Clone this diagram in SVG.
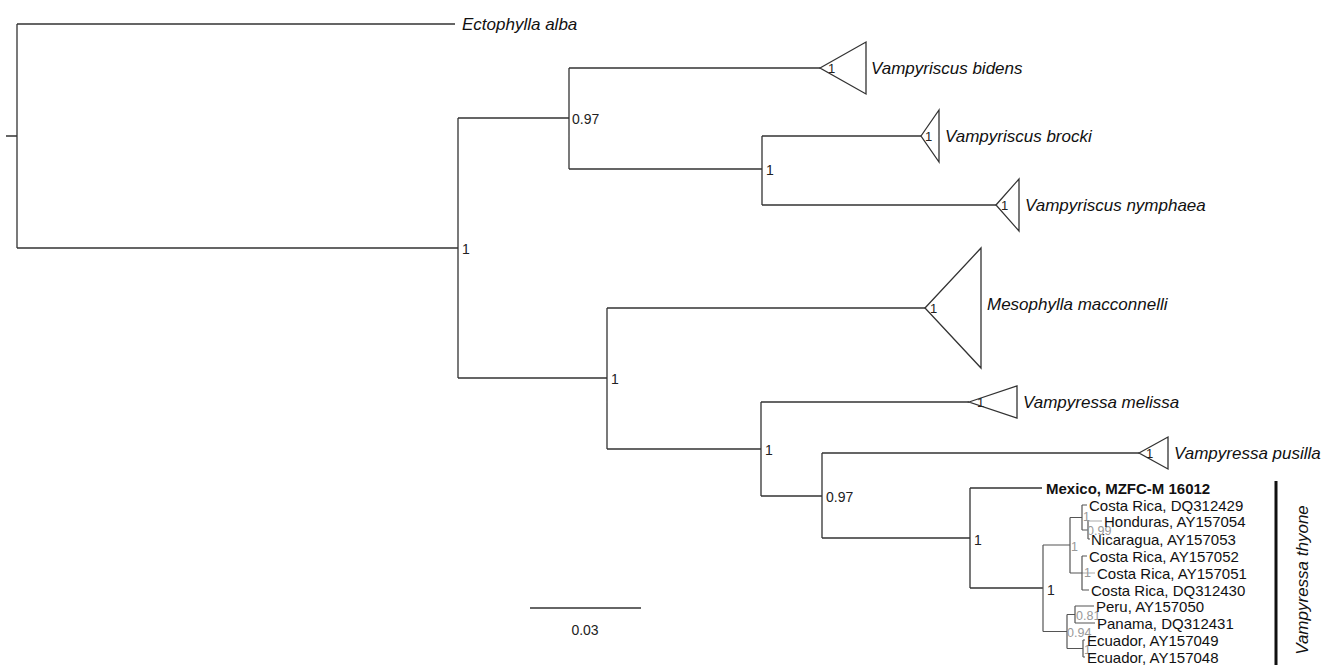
<svg xmlns="http://www.w3.org/2000/svg" width="1326" height="665" viewBox="0 0 1326 665">
<style>
.br{stroke:#333;stroke-width:1.3;fill:none}
.gb{stroke:#555;stroke-width:1.2;fill:none}
.lg{stroke:#aaa;stroke-width:1.2;fill:none}
.tri{stroke:#333;stroke-width:1.3;fill:#fff}
.nl{font-family:"Liberation Sans",Arial,sans-serif;font-size:14px;fill:#222;dominant-baseline:central}
.tl{font-family:"Liberation Sans",Arial,sans-serif;font-size:13px;fill:#222;dominant-baseline:central}
.gl{font-family:"Liberation Sans",Arial,sans-serif;font-size:12.5px;fill:#999;dominant-baseline:central}
.tx{font-family:"Liberation Sans",Arial,sans-serif;font-size:17px;font-style:italic;fill:#111;dominant-baseline:central}
.sp{font-family:"Liberation Sans",Arial,sans-serif;font-size:15px;fill:#111;dominant-baseline:central}
.mx{font-family:"Liberation Sans",Arial,sans-serif;font-size:15px;font-weight:bold;fill:#111;dominant-baseline:central}
</style>
<rect width="1326" height="665" fill="#fff"/>
<g id="connectors">
<path class="br" d="M6,136H17M17,24V248M17,24H455M17,248H458"/>
<path class="br" d="M458,118V378M458,118H569M569,68V169M569,68H820M569,169H762M762,136V205M762,136H921M762,205H996"/>
<path class="br" d="M458,378H607M607,308V449M607,308H925M607,449H761M761,402V496M761,402H969M761,496H822M822,453V538M822,453H1139M822,538H970"/>
<path class="br" d="M970,488V588M970,488H1042M970,588H1043"/>
<path class="gb" d="M1043,545V631.5M1043,545H1070M1043,631.5H1067"/>
<path class="gb" d="M1070,517.5V573M1070,517.5H1082M1070,573H1082"/>
<path class="gb" d="M1082,505V530M1082,505H1087M1082,530H1088M1088,521V539M1088,539H1090"/>
<path class="lg" d="M1088,521H1102M1082,573H1095"/>
<path class="gb" d="M1082,556V590M1082,556H1087M1082,590H1089"/>
<path class="gb" d="M1067,614.5V648.5M1067,614.5H1075M1067,648.5H1083M1075,606V623M1075,606H1094M1075,623H1095M1083,640V657M1083,640H1085M1083,657H1085"/>
<path class="br" d="M530,608H641"/>
</g>
<g id="node-labels">
<text class="nl" x="462" y="249">1</text>
<text class="nl" x="572" y="119">0.97</text>
<text class="nl" x="766" y="170">1</text>
<text class="nl" x="611" y="379">1</text>
<text class="nl" x="765" y="450">1</text>
<text class="nl" x="826" y="497">0.97</text>
<text class="nl" x="974" y="540">1</text>
<text class="nl" x="1047" y="590">1</text>
<text class="gl" x="1083" y="517">1</text>
<text class="gl" x="1087" y="531">0.99</text>
<text class="gl" x="1071" y="547">1</text>
<text class="gl" x="1084" y="573">1</text>
<text class="gl" x="1076" y="616">0.81</text>
<text class="gl" x="1067" y="633">0.94</text>
<text class="gl" x="1084" y="650">1</text>
</g>
<g id="ectophylla-alba"><text class="tx" x="462" y="24">Ectophylla alba</text></g>
<g id="vampyriscus-bidens">
<polygon class="tri" points="820,68 866,42 866,94"/>
<text class="tl" x="828" y="68">1</text>
<text class="tx" x="871" y="68">Vampyriscus bidens</text>
</g>
<g id="vampyriscus-brocki">
<polygon class="tri" points="921,136 939,110 939,162"/>
<text class="tl" x="925" y="136">1</text>
<text class="tx" x="945" y="136">Vampyriscus brocki</text>
</g>
<g id="vampyriscus-nymphaea">
<polygon class="tri" points="996,205 1019,179 1019,231"/>
<text class="tl" x="1001" y="205">1</text>
<text class="tx" x="1025" y="205">Vampyriscus nymphaea</text>
</g>
<g id="mesophylla-macconnelli">
<polygon class="tri" points="925,308 981,248 981,368"/>
<text class="tl" x="930" y="308">1</text>
<text class="tx" x="987" y="304">Mesophylla macconnelli</text>
</g>
<g id="vampyressa-melissa">
<polygon class="tri" points="969,402 1017,386 1017,418"/>
<text class="tl" x="977" y="402">1</text>
<text class="tx" x="1023" y="402">Vampyressa melissa</text>
</g>
<g id="vampyressa-pusilla">
<polygon class="tri" points="1139,453 1168,437 1168,469"/>
<text class="tl" x="1146" y="453">1</text>
<text class="tx" x="1174" y="453">Vampyressa pusilla</text>
</g>
<g id="tips">
<text class="mx" x="1046" y="488">Mexico, MZFC-M 16012</text>
<text class="sp" x="1089" y="505">Costa Rica, DQ312429</text>
<text class="sp" x="1104" y="521.5">Honduras, AY157054</text>
<text class="sp" x="1091" y="539">Nicaragua, AY157053</text>
<text class="sp" x="1089" y="556">Costa Rica, AY157052</text>
<text class="sp" x="1097" y="573">Costa Rica, AY157051</text>
<text class="sp" x="1091" y="590">Costa Rica, DQ312430</text>
<text class="sp" x="1096" y="606.5">Peru, AY157050</text>
<text class="sp" x="1097" y="623">Panama, DQ312431</text>
<text class="sp" x="1087" y="640">Ecuador, AY157049</text>
<text class="sp" x="1087" y="657">Ecuador, AY157048</text>
</g>
<g id="vampyressa-thyone">
<rect x="1274.5" y="481" width="3" height="184" fill="#111"/>
<text class="tx" transform="translate(1302,580) rotate(-90)" text-anchor="middle">Vampyressa thyone</text>
</g>
<g id="scale-bar"><text class="nl" x="585" y="630" text-anchor="middle">0.03</text></g>
</svg>
